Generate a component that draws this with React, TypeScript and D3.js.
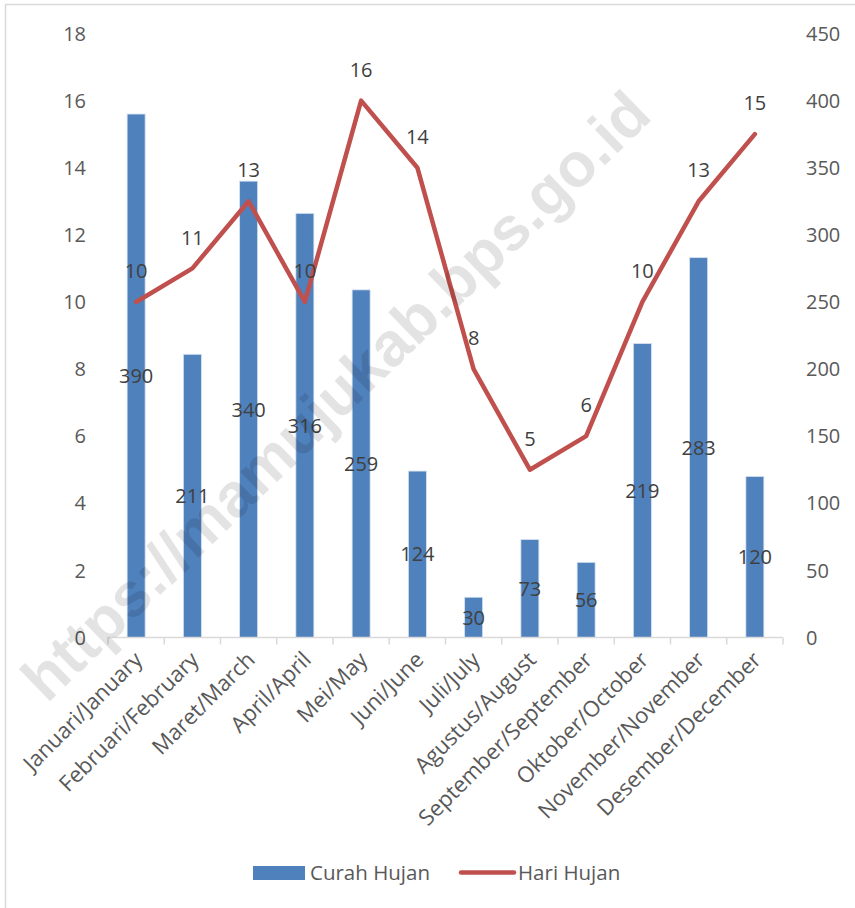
import React from "react";
import * as d3 from "d3";

const months = [
  "Januari/January", "Februari/February", "Maret/March", "April/April", "Mei/May", "Juni/June",
  "Juli/July", "Agustus/August", "September/September", "Oktober/October", "November/November", "Desember/December",
];
const curahHujan = [390, 211, 340, 316, 259, 124, 30, 73, 56, 219, 283, 120];
const hariHujan = [10, 11, 13, 10, 16, 14, 8, 5, 6, 10, 13, 15];
const leftTicks = [0, 2, 4, 6, 8, 10, 12, 14, 16, 18];
const rightTicks = [0, 50, 100, 150, 200, 250, 300, 350, 400, 450];

const W = 855, H = 908;
const m = { left: 108, right: 783, top: 33.5, bottom: 637.5 };
const FONT = "'Open Sans', 'Noto Sans', sans-serif";

export default function App() {
  const x = d3.scaleBand<string>().domain(months).range([m.left, m.right]).paddingInner(0).paddingOuter(0);
  const yL = d3.scaleLinear().domain([0, 18]).range([m.bottom, m.top]);
  const yR = d3.scaleLinear().domain([0, 450]).range([m.bottom, m.top]);
  const bw = 18;
  const cx = (d: string) => (x(d) as number) + x.bandwidth() / 2;
  const line = d3.line<number>().x((_, i) => cx(months[i])).y((d) => yL(d));

  return (
    <svg width={W} height={H} style={{ position: "absolute", left: 0, top: 0, background: "#fff" }}>
      <rect x={5.5} y={4.5} width={W + 10} height={H + 10} fill="#fff" stroke="#D9D9D9" strokeWidth={1.5} />
      {/* bars */}
      {curahHujan.map((v, i) => (
        <rect key={i} x={cx(months[i]) - bw / 2} y={yR(v)} width={bw} height={yR(0) - yR(v)}
          fill="#4F81BD" stroke="#D6E2F0" strokeWidth={0.8} />
      ))}
      {/* axis */}
      <line x1={m.left} x2={m.right} y1={m.bottom} y2={m.bottom} stroke="#D9D9D9" strokeWidth={1.5} />
      {d3.range(months.length + 1).map((i) => {
        const xx = m.left + i * x.bandwidth();
        return <line key={i} x1={xx} x2={xx} y1={m.bottom} y2={m.bottom + 7} stroke="#D9D9D9" strokeWidth={1.5} />;
      })}
      {/* line */}
      <path d={line(hariHujan) || ""} fill="none" stroke="#C0504D" strokeWidth={4.5} strokeLinejoin="round" strokeLinecap="round" />
      {/* left ticks */}
      {leftTicks.map((t) => (
        <text key={t} x={86} y={yL(t)} dy="0.36em" textAnchor="end" fontFamily={FONT} fontSize={20} fill="#595959">{t}</text>
      ))}
      {rightTicks.map((t) => (
        <text key={t} x={806} y={yR(t)} dy="0.36em" textAnchor="start" fontFamily={FONT} fontSize={20} fill="#595959">{t}</text>
      ))}
      {/* category labels */}
      {months.map((d) => (
        <text key={d} transform={`translate(${cx(d) + 2},${m.bottom + 18}) rotate(-45)`} textAnchor="end"
          dy="0.36em" fontFamily={FONT} fontSize={22} fill="#595959">{d}</text>
      ))}
      {/* bar labels */}
      {curahHujan.map((v, i) => (
        <text key={i} x={cx(months[i])} y={(yR(v) + yR(0)) / 2} dy="0.36em" textAnchor="middle"
          fontFamily={FONT} fontSize={20} fill="#404040">{v}</text>
      ))}
      {/* line labels */}
      {hariHujan.map((v, i) => (
        <text key={i} x={cx(months[i])} y={yL(v) - 31} dy="0.36em" textAnchor="middle"
          fontFamily={FONT} fontSize={20} fill="#404040">{v}</text>
      ))}
      {/* legend */}
      <rect x={253} y={866} width={52} height={14} fill="#4F81BD" />
      <text x={310} y={873} dy="0.36em" fontFamily={FONT} fontSize={20.5} fill="#595959">Curah Hujan</text>
      <line x1={461} x2={514} y1={872.5} y2={872.5} stroke="#C0504D" strokeWidth={4.5} strokeLinecap="round" />
      <text x={518} y={873} dy="0.36em" fontFamily={FONT} fontSize={20.5} fill="#595959">Hari Hujan</text>
      {/* watermark */}
      <text transform="translate(335,395) rotate(-44)" textAnchor="middle" dy="0.36em"
        fontFamily="'Liberation Sans', Arial, sans-serif" fontWeight="bold" fontSize={62} fill="#000" fillOpacity={0.11}>
        https://mamujukab.bps.go.id
      </text>
    </svg>
  );
}
